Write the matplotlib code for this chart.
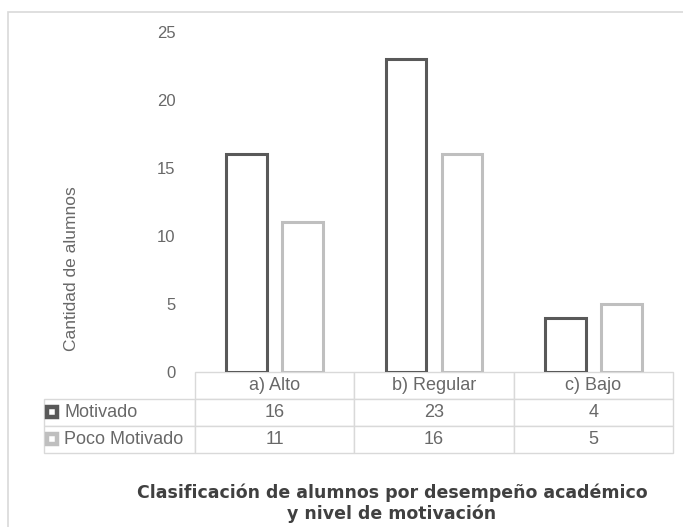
import numpy as np
import matplotlib
matplotlib.use("Agg")
from matplotlib import pyplot as plt
from matplotlib.patches import Rectangle

categories = ["a) Alto", "b) Regular", "c) Bajo"]
series_names = ["Motivado", "Poco Motivado"]
motivado = [16, 23, 4]
poco_motivado = [11, 16, 5]
yticks = [0, 5, 10, 15, 20, 25]

dark = "#595959"
light = "#bfbfbf"
text_col = "#686868"

plt.rcParams["font.family"] = ["Liberation Sans", "DejaVu Sans"]

W, H = 683, 527
fig = plt.figure(figsize=(W / 100, H / 100), dpi=100)

# outer chart frame
fig.add_artist(Rectangle((8 / W, -0.01), 1.0, 1 - 12 / H + 0.01,
                         transform=fig.transFigure, fill=False,
                         edgecolor="#d9d9d9", linewidth=1.2))

left, right, top, bottom = 195, 673, 32, 372
ax = fig.add_axes([left / W, 1 - bottom / H, (right - left) / W, (bottom - top) / H])

x = np.arange(len(categories))
off = 0.175
w = 0.255
ax.bar(x - off, motivado, w, facecolor="white", edgecolor=dark, linewidth=2.2, zorder=3)
ax.bar(x + off, poco_motivado, w, facecolor="white", edgecolor=light, linewidth=2.2, zorder=3)

ax.set_xlim(-0.5, len(categories) - 0.5)
ax.set_ylim(0, 25)
ax.set_yticks(yticks)
ax.set_yticklabels([str(v) for v in yticks], color=text_col, fontsize=12)
ax.tick_params(axis="y", length=0, pad=14)
ax.set_xticks([])
for s in ax.spines.values():
    s.set_visible(False)

fig.text(72 / W, 1 - 269 / H, "Cantidad de alumnos", rotation=90,
         ha="center", va="center", color=text_col, fontsize=12.5)

# data table under the bars
cell_text = [[str(v) for v in motivado], [str(v) for v in poco_motivado]]
row_w = (192 - 41) / (right - left)
tbl = ax.table(cellText=cell_text,
               rowLabels=series_names,
               colLabels=categories,
               cellLoc="center", rowLoc="left",
               bbox=[0, -81 / 340, 1, 81 / 340])
tbl.auto_set_font_size(False)
for (r, c), cell in tbl.get_celld().items():
    cell.set_edgecolor("#d9d9d9")
    cell.set_linewidth(1.0)
    cell.get_text().set_color(text_col)
    cell.get_text().set_fontsize(13)
    if c == -1:
        cell.set_width(row_w)
        cell.PAD = 20 / 151
    else:
        cell.set_width(1 / 3)

# legend keys inside the row labels
for i, col in enumerate([dark, light]):
    yk = 1 - (411.5 + i * 27.5) / H
    fig.add_artist(plt.Line2D([52 / W], [yk], transform=fig.transFigure,
                              marker="s", markersize=7.2, markerfacecolor="white",
                              markeredgecolor=col, markeredgewidth=3.2,
                              linestyle="none"))

fig.text(392 / W, 1 - 503 / H,
         "Clasificación de alumnos por desempeño académico\ny nivel de motivación",
         ha="center", va="center", color="#404040", fontsize=12.5,
         fontweight="bold", family=["DejaVu Sans"], linespacing=1.2)

fig.savefig("out.png", dpi=100)
